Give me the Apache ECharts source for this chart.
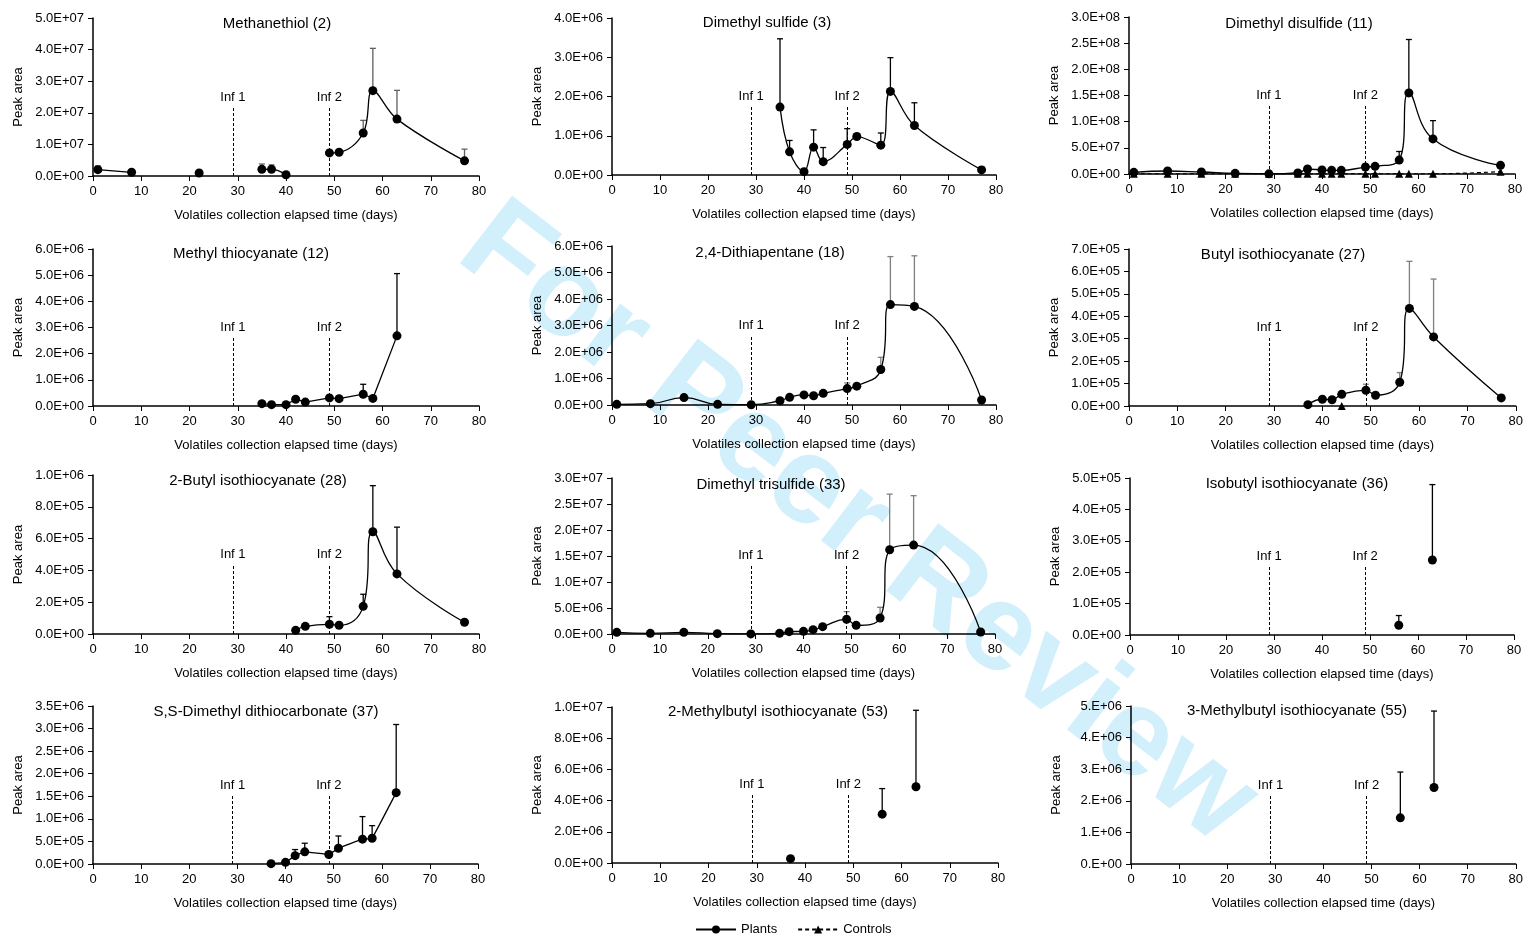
<!DOCTYPE html>
<html>
<head>
<meta charset="utf-8">
<script src="https://cdn.jsdelivr.net/npm/echarts@6/dist/echarts.min.js"></script>
<style>
html,body{margin:0;padding:0;background:#fff;}
#chart{width:1526px;height:935px;}
</style>
</head>
<body>
<div id="chart"></div>
<script>
// ---- data ----
const days = [1, 8, 15, 22, 29, 35, 37, 40, 42, 44, 49, 51, 56, 58, 63, 77];
const infDays = [29, 49];
const infLabels = ['Inf 1', 'Inf 2'];
const xAxisTitle = 'Volatiles collection elapsed time (days)';
const yAxisTitle = 'Peak area';

const titles = [
  'Methanethiol (2)', 'Dimethyl sulfide (3)', 'Dimethyl disulfide (11)',
  'Methyl thiocyanate (12)', '2,4-Dithiapentane (18)', 'Butyl isothiocyanate (27)',
  '2-Butyl isothiocyanate (28)', 'Dimethyl trisulfide (33)', 'Isobutyl isothiocyanate (36)',
  'S,S-Dimethyl dithiocarbonate (37)', '2-Methylbutyl isothiocyanate (53)', '3-Methylbutyl isothiocyanate (55)'
];
const yMax  = [5e7, 4e6, 3e8, 6e6, 6e6, 7e5, 1e6, 3e7, 5e5, 3.5e6, 1e7, 5e6];
const yStep = [1e7, 1e6, 5e7, 1e6, 1e6, 1e5, 2e5, 5e6, 1e5, 5e5, 2e6, 1e6];
const yDecimals = [1, 1, 1, 1, 1, 1, 1, 1, 1, 1, 1, 0];

// Plants means (null = not detected)
const methanethiolPlants = [2.0e6, 1.17e6, null, 0.95e6, null, 2.1e6, 2.1e6, 0.4e6, null, null, 7.3e6, 7.5e6, 13.6e6, 27.0e6, 18.0e6, 4.8e6];
const methanethiolErr    = [1.2e6, 0.5e6, null, 0, null, 1.7e6, 1.4e6, 0, null, null, 0, 0, 4.0e6, 13.4e6, 9.1e6, 3.7e6];

const dimethylSulfidePlants = [null, null, null, null, null, 1.73e6, 0.59e6, 0.085e6, 0.71e6, 0.34e6, 0.78e6, 0.98e6, 0.76e6, 2.13e6, 1.26e6, 0.13e6];
const dimethylSulfideErr    = [null, null, null, null, null, 1.74e6, 0.29e6, 0, 0.44e6, 0.36e6, 0.40e6, 0.07e6, 0.31e6, 0.86e6, 0.58e6, 0.07e6];

const dimethylDisulfidePlants   = [3.2e6, 5.7e6, 3.8e6, 1.3e6, 0.3e6, 1.9e6, 9.5e6, 7.6e6, 7.0e6, 7.0e6, 13.3e6, 14.6e6, 26.6e6, 155e6, 67e6, 16.5e6];
const dimethylDisulfideErr      = [0, 0, 0, 0, 0, 0, 2e6, 0, 0, 0, 0, 0, 16.4e6, 102e6, 35e6, 4e6];
const dimethylDisulfideControls = [0.4e6, 0.4e6, 0.4e6, 0.4e6, 0.4e6, 0.4e6, 0.4e6, 0.4e6, 0.4e6, 0.4e6, 0.4e6, 0.4e6, 0.4e6, 0.4e6, 0.4e6, 4.5e6];

const methylThiocyanatePlants = [null, null, null, null, null, 0.09e6, 0.05e6, 0.05e6, 0.26e6, 0.15e6, 0.31e6, 0.28e6, 0.45e6, 0.29e6, 2.68e6, null];
const methylThiocyanateErr    = [null, null, null, null, null, 0, 0, 0, 0, 0, 0, 0, 0.38e6, 0, 2.38e6, null];

const dithiapentanePlants = [0.025e6, 0.05e6, 0.28e6, 0.025e6, 0.01e6, 0.16e6, 0.29e6, 0.38e6, 0.35e6, 0.44e6, 0.62e6, 0.71e6, 1.34e6, 3.79e6, 3.72e6, 0.19e6];
const dithiapentaneErr    = [0, 0, 0, 0, 0, 0, 0, 0, 0, 0, 0.21e6, 0, 0.46e6, 1.81e6, 1.91e6, 0];

const butylItcPlants   = [null, null, null, null, null, null, 0.06e5, 0.30e5, 0.28e5, 0.52e5, 0.70e5, 0.48e5, 1.06e5, 4.35e5, 3.08e5, 0.36e5];
const butylItcErr      = [null, null, null, null, null, null, 0, 0, 0, 0.13e5, 0.27e5, 0, 0.43e5, 2.10e5, 2.58e5, 0.12e5];
const butylItcControls = [null, null, null, null, null, null, null, null, null, 0, null, null, null, null, null, null];

const butyl2ItcPlants = [null, null, null, null, null, null, null, null, 0.23e5, 0.48e5, 0.61e5, 0.55e5, 1.74e5, 6.43e5, 3.78e5, 0.74e5];
const butyl2ItcErr    = [null, null, null, null, null, null, null, null, 0, 0.17e5, 0.48e5, 0, 0.76e5, 2.90e5, 2.94e5, 0.06e5];

const trisulfidePlants = [0.32e6, 0.13e6, 0.32e6, 0.06e6, 0.02e6, 0.13e6, 0.45e6, 0.51e6, 0.83e6, 1.41e6, 2.82e6, 1.67e6, 3.08e6, 16.2e6, 17.1e6, 0.38e6];
const trisulfideErr    = [0, 0, 0, 0, 0, 0, 0, 0, 0, 0, 1.48e6, 0, 2.05e6, 10.7e6, 9.5e6, 0];

const isobutylItcPlants = [null, null, null, null, null, null, null, null, null, null, null, null, 0.31e5, null, 2.39e5, null];
const isobutylItcErr    = [null, null, null, null, null, null, null, null, null, null, null, null, 0.31e5, null, 2.40e5, null];

const dithiocarbonatePlants = [null, null, null, null, null, null, 0.007e6, 0.037e6, 0.185e6, 0.27e6, 0.21e6, 0.35e6, 0.55e6, 0.57e6, 1.58e6, null];
const dithiocarbonateErr    = [null, null, null, null, null, null, 0, 0, 0.135e6, 0.19e6, 0, 0.27e6, 0.50e6, 0.28e6, 1.51e6, null];

const methylbutyl2ItcPlants = [null, null, null, null, null, null, 0.28e6, null, null, null, null, null, 3.13e6, null, 4.89e6, null];
const methylbutyl2ItcErr    = [null, null, null, null, null, null, 0, null, null, null, null, null, 1.64e6, null, 4.90e6, null];

const methylbutyl3ItcPlants = [null, null, null, null, null, null, null, null, null, null, null, null, 1.46e6, null, 2.42e6, null];
const methylbutyl3ItcErr    = [null, null, null, null, null, null, null, null, null, null, null, null, 1.45e6, null, 2.42e6, null];

const plantsSeries = [methanethiolPlants, dimethylSulfidePlants, dimethylDisulfidePlants, methylThiocyanatePlants,
  dithiapentanePlants, butylItcPlants, butyl2ItcPlants, trisulfidePlants, isobutylItcPlants,
  dithiocarbonatePlants, methylbutyl2ItcPlants, methylbutyl3ItcPlants];
const errSeries = [methanethiolErr, dimethylSulfideErr, dimethylDisulfideErr, methylThiocyanateErr,
  dithiapentaneErr, butylItcErr, butyl2ItcErr, trisulfideErr, isobutylItcErr,
  dithiocarbonateErr, methylbutyl2ItcErr, methylbutyl3ItcErr];
const controlsSeries = {2: dimethylDisulfideControls, 5: butylItcControls};

// ---- layout / style ----
const FONT = '"Liberation Sans", Arial, Helvetica, sans-serif';
const grids = [
  [93, 18, 386, 158], [612, 18, 384, 157], [1129, 17, 386, 157],
  [93, 249, 386, 157], [612, 246, 384, 159], [1129, 249, 388, 157],
  [93, 475, 386, 159], [612, 478, 383, 156], [1130, 478, 384, 157],
  [93, 706, 385, 158], [612, 707, 386, 156], [1131, 706, 386, 158]
];
const titlePos = [
  [277, 25], [767, 24], [1299, 25], [251, 255], [770, 254], [1283, 256],
  [258, 482], [771, 486], [1297, 485], [266, 713], [778, 713], [1297, 712]
];
const smoothing = [0.4, 0.4, 0.45, 0, 0.5, 0.45, 0.45, 0.5, 0, 0.05, 0, 0];
const errColor = ['#606060', '#000', '#000', '#000', '#7f7f7f', '#7f7f7f', '#000', '#7f7f7f', '#000', '#000', '#000', '#000'];
const infFrac = 0.44;

function fmtExp(v, dec) {
  if (v === 0) return (dec ? (0).toFixed(dec) : '0.') + 'E+00';
  const e = Math.floor(Math.log10(Math.abs(v)) + 1e-9);
  const m = v / Math.pow(10, e);
  let s = m.toFixed(dec);
  if (dec === 0) s += '.';
  return s + 'E+' + String(e).padStart(2, '0');
}

const option = {
  animation: false,
  backgroundColor: '#fff',
  textStyle: { fontFamily: FONT },
  title: titles.map((t, i) => ({
    text: t, left: titlePos[i][0], top: titlePos[i][1] - 9, textAlign: 'center', padding: 0,
    textStyle: { fontFamily: FONT, fontSize: 15, fontWeight: 'normal', color: '#000' }
  })),
  legend: {
    data: ['Plants', 'Controls'], left: 690, top: 918, itemWidth: 40, itemHeight: 10, itemGap: 20,
    textStyle: { fontFamily: FONT, fontSize: 13, color: '#000' }
  },
  graphic: [{
    type: 'text', x: 857, y: 525, rotation: -0.655, z: -100, silent: true,
    style: {
      text: 'For Peer Review', fontSize: 124, fontWeight: 'bold', fontFamily: FONT,
      fill: '#d2effc', textAlign: 'center', textVerticalAlign: 'middle', align: 'center', verticalAlign: 'middle'
    }
  }],
  grid: grids.map(g => ({ left: g[0], top: g[1], width: g[2], height: g[3] })),
  xAxis: grids.map((g, i) => ({
    type: 'value', gridIndex: i, min: 0, max: 80, interval: 10,
    name: xAxisTitle, nameLocation: 'middle', nameGap: 33,
    nameTextStyle: { fontFamily: FONT, fontSize: 13, color: '#000' },
    axisLine: { show: true, onZero: false, lineStyle: { color: '#000', width: 1.5 } },
    axisTick: { show: true, length: 5, lineStyle: { color: '#000', width: 1 } },
    axisLabel: { color: '#000', fontSize: 13, fontFamily: FONT, margin: 9 },
    splitLine: { show: false }
  })),
  yAxis: grids.map((g, i) => ({
    type: 'value', gridIndex: i, min: 0, max: yMax[i], interval: yStep[i],
    name: yAxisTitle, nameLocation: 'middle', nameGap: 68,
    nameTextStyle: { fontFamily: FONT, fontSize: 13, color: '#000' },
    axisLine: { show: true, lineStyle: { color: '#000', width: 1.5 } },
    axisTick: { show: true, length: 5, lineStyle: { color: '#000', width: 1 } },
    axisLabel: { color: '#000', fontSize: 13, fontFamily: FONT, margin: 9, formatter: v => fmtExp(v, yDecimals[i]) },
    splitLine: { show: false }
  })),
  series: []
};

plantsSeries.forEach((vals, i) => {
  const top = yMax[i] * infFrac;
  option.series.push({
    type: 'line', name: 'Plants', xAxisIndex: i, yAxisIndex: i, z: 4,
    data: days.map((d, k) => [d, vals[k]]),
    symbol: 'circle', symbolSize: 9, showAllSymbol: true, connectNulls: false,
    smooth: smoothing[i],
    itemStyle: { color: '#000' },
    lineStyle: { color: '#000', width: 1.3 },
    markLine: {
      silent: true, symbol: ['none', 'none'], animation: false,
      lineStyle: { color: '#000', width: 1, type: [3, 2] },
      label: { show: true, position: 'end', formatter: '{b}', color: '#000', fontSize: 13, fontFamily: FONT, distance: 3 },
      data: infDays.map((d, j) => [{ name: infLabels[j], coord: [d, 0] }, { coord: [d, top] }])
    }
  });
  const errData = [];
  days.forEach((d, k) => {
    if (vals[k] != null && errSeries[i][k]) errData.push([d, vals[k], errSeries[i][k]]);
  });
  const c = errColor[i];
  option.series.push({
    type: 'custom', name: 'err' + i, xAxisIndex: i, yAxisIndex: i, z: 3,
    data: errData, encode: { x: 0, y: 1 },
    renderItem: function (params, api) {
      const x = api.value(0), y = api.value(1), e = api.value(2);
      const p0 = api.coord([x, y]);
      const p1 = api.coord([x, y + e]);
      return {
        type: 'group', children: [
          { type: 'line', shape: { x1: p0[0], y1: p0[1], x2: p1[0], y2: p1[1] }, style: { stroke: c, lineWidth: 1.3 } },
          { type: 'line', shape: { x1: p1[0] - 3, y1: p1[1], x2: p1[0] + 3, y2: p1[1] }, style: { stroke: c, lineWidth: 1.3 } }
        ]
      };
    }
  });
  if (controlsSeries[i]) {
    const cv = controlsSeries[i];
    option.series.push({
      type: 'line', name: 'Controls', xAxisIndex: i, yAxisIndex: i, z: 5,
      data: days.map((d, k) => [d, cv[k]]),
      symbol: 'triangle', symbolSize: 8, showAllSymbol: true, connectNulls: false, smooth: 0.4,
      itemStyle: { color: '#000' },
      lineStyle: { color: '#000', width: 1.2, type: [4, 3] }
    });
  }
});

const chart = echarts.init(document.getElementById('chart'));
chart.setOption(option);
</script>
</body>
</html>
